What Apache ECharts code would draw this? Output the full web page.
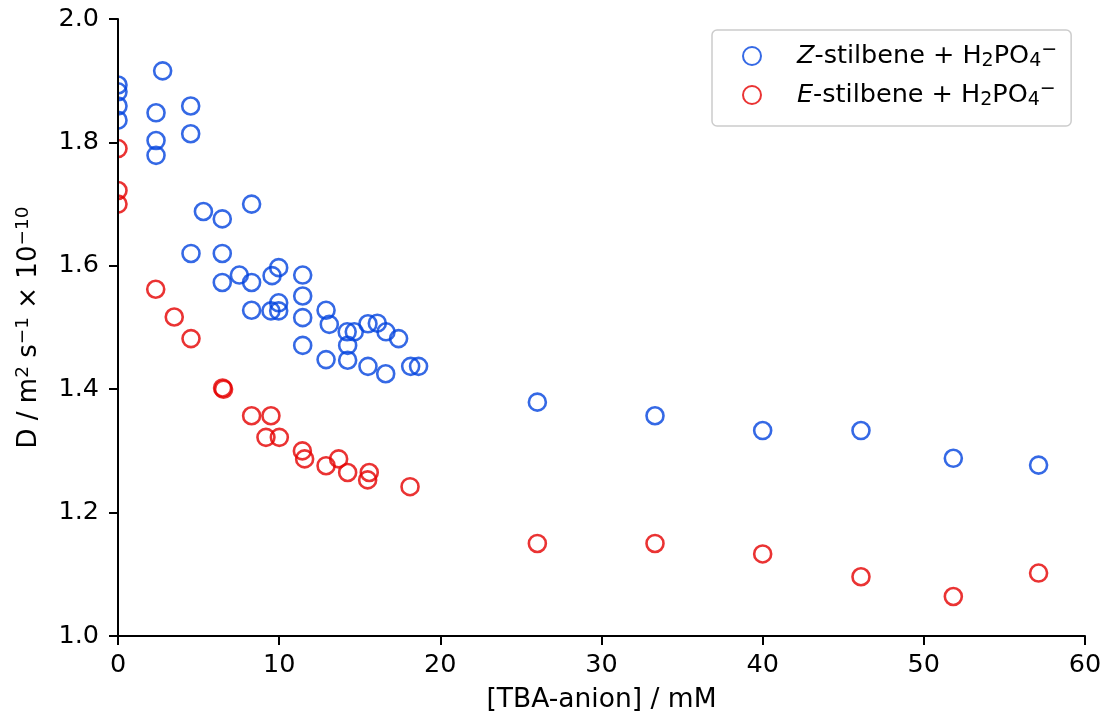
<!DOCTYPE html>
<html lang="en">

<head>
    <meta charset="UTF-8">
    <title>Diffusion vs TBA-anion</title>
    <style>
        html, body { margin: 0; padding: 0; background: #fff; }
        #ScatterChart { width: 1103px; height: 716px; }
    </style>
</head>

<body onload="setup()">

    <div id="ScatterChart"></div>
    <script src="https://cdn.jsdelivr.net/npm/echarts@6/dist/echarts.min.js"></script>
    <script>

        // Z-stilbene + H2PO4- (blue)
        var zConc = [0, 0, 0, 0, 2.77, 2.36, 2.36, 2.36, 4.51, 4.51,
            5.30, 6.47, 8.29, 4.53, 6.47, 7.53, 6.47, 8.29, 9.56, 9.97,
            11.46, 11.46, 9.97, 8.29, 9.49, 9.97, 11.46, 12.91, 13.11, 14.22,
            14.66, 15.51, 16.09, 16.63, 17.41, 14.25, 11.46, 12.91, 14.25, 15.51,
            16.61, 18.16, 18.65, 26.02, 33.32, 40.0, 46.10, 51.83, 57.12]
        var zDiff = [1.893, 1.882, 1.859, 1.836, 1.916, 1.848, 1.803, 1.779, 1.859, 1.814,
            1.688, 1.676, 1.700, 1.620, 1.620, 1.585, 1.573, 1.573, 1.584, 1.597,
            1.585, 1.551, 1.540, 1.528, 1.527, 1.527, 1.516, 1.528, 1.505, 1.493,
            1.493, 1.506, 1.507, 1.493, 1.482, 1.471, 1.471, 1.448, 1.447, 1.437,
            1.425, 1.437, 1.437, 1.379, 1.357, 1.333, 1.333, 1.288, 1.277]

        // E-stilbene + H2PO4- (red)
        var eConc = [0, 0, 0, 2.34, 3.49, 4.53, 6.49, 6.55, 8.29, 9.49,
            9.18, 10.01, 11.44, 11.58, 12.91, 13.69, 14.25, 15.59, 15.49, 18.12,
            26.02, 33.32, 40.0, 46.10, 51.83, 57.12]
        var eDiff = [1.790, 1.722, 1.700, 1.562, 1.517, 1.482, 1.402, 1.400, 1.357, 1.357,
            1.322, 1.322, 1.300, 1.287, 1.276, 1.287, 1.265, 1.265, 1.253, 1.242,
            1.150, 1.150, 1.133, 1.096, 1.064, 1.102]

        var xTicks = { min: 0, max: 60, step: 10 }
        var yTicks = { min: 1.0, max: 2.0, step: 0.2 }

        var FONT = 'DejaVu Sans'
        var BLUE = '#0343df'
        var RED = '#e50000'
        var GRID = { left: 118, right: 18, top: 19, bottom: 80 }

        var ScatterChart;
        function setup() {
            ScatterChart = echarts.init(document.getElementById('ScatterChart'), null, { renderer: 'canvas' })
            ScatterChart.setOption(scatterOption, true)
        }

        function pairs(xs, ys) {
            return xs.map(function (x, i) { return [x, ys[i]] })
        }

        function newSeries(name, color, inpData) {
            return {
                name: name,
                type: 'scatter',
                symbol: 'circle',
                symbolSize: 17,
                clip: true,
                itemStyle: {
                    color: 'rgba(0,0,0,0)',
                    borderColor: color,
                    borderWidth: 2.6
                },
                emphasis: { disabled: true },
                data: inpData
            }
        }

        var subStyle = { fontFamily: FONT, fontSize: 19, color: '#000', verticalAlign: 'bottom', lineHeight: 18 }
        var supStyle = { fontFamily: FONT, fontSize: 19, color: '#000', verticalAlign: 'top', lineHeight: 18 }

        var axisLine = { show: true, onZero: false, lineStyle: { color: '#000', width: 2 } }
        var axisTick = { show: true, inside: false, length: 9, lineStyle: { color: '#000', width: 2 } }

        var scatterOption = {
            animation: false,
            backgroundColor: '#fff',
            grid: {
                left: GRID.left,
                right: GRID.right,
                top: GRID.top,
                bottom: GRID.bottom,
                containLabel: false,
                outerBoundsMode: 'none'
            },
            // white mask left of the y axis so points at x = 0 are cut in half like matplotlib clipping
            graphic: [{
                type: 'rect',
                z: 5,
                silent: true,
                shape: { x: 0, y: 0, width: GRID.left - 1, height: 716 },
                style: { fill: '#fff' }
            }],
            legend: {
                orient: 'vertical',
                left: 712,
                top: 30,
                padding: [11, 14, 16, 30],
                itemGap: 9,
                itemWidth: 80,
                itemHeight: 18,
                symbolKeepAspect: true,
                icon: 'circle',
                backgroundColor: '#fff',
                borderColor: '#cccccc',
                borderWidth: 1.5,
                borderRadius: 5,
                data: ['Z-stilbene', 'E-stilbene'],
                formatter: function (name) {
                    var letter = name.charAt(0)
                    return '{it|' + letter + '}-stilbene + H{sub|2}PO{sub|4}{sup|\u2212}'
                },
                textStyle: {
                    fontFamily: FONT,
                    fontSize: 25.5,
                    color: '#000',
                    lineHeight: 30,
                    rich: {
                        it: { fontFamily: FONT, fontSize: 25.5, fontStyle: 'italic', color: '#000' },
                        sub: subStyle,
                        sup: supStyle
                    }
                }
            },
            xAxis: {
                type: 'value',
                z: 10,
                min: xTicks.min,
                max: xTicks.max,
                interval: xTicks.step,
                name: '[TBA-anion] / mM',
                nameLocation: 'middle',
                nameGap: 51,
                nameTextStyle: { fontFamily: FONT, fontSize: 26.5, color: '#000' },
                axisLine: axisLine,
                axisTick: axisTick,
                splitLine: { show: false },
                axisLabel: { fontFamily: FONT, fontSize: 25.5, color: '#000', margin: 16 }
            },
            yAxis: {
                type: 'value',
                z: 10,
                min: yTicks.min,
                max: yTicks.max,
                interval: yTicks.step,
                name: 'D / m{sup|2} s{sup|\u22121} \u00d7 10{sup|\u221210}',
                nameLocation: 'middle',
                nameRotate: 90,
                nameGap: 74,
                nameTextStyle: {
                    fontFamily: FONT, fontSize: 26, color: '#000', lineHeight: 30,
                    rich: {
                        sup: { fontFamily: FONT, fontSize: 18.5, color: '#000', verticalAlign: 'top', lineHeight: 18 }
                    }
                },
                axisLine: axisLine,
                axisTick: axisTick,
                splitLine: { show: false },
                axisLabel: {
                    fontFamily: FONT, fontSize: 25.5, color: '#000', margin: 19,
                    formatter: function (v) { return v.toFixed(1) }
                }
            },
            series: [
                newSeries('Z-stilbene', BLUE, pairs(zConc, zDiff)),
                newSeries('E-stilbene', RED, pairs(eConc, eDiff))
            ]
        }

    </script>
</body>

</html>
